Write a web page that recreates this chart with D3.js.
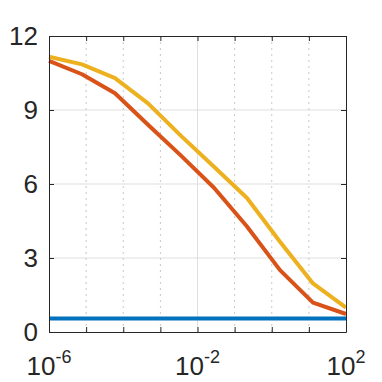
<!DOCTYPE html>
<html>
<head>
<meta charset="utf-8">
<script src="https://cdn.jsdelivr.net/npm/d3@7"></script>
<style>
  body { margin: 0; background: #fff; }
  text { font-family: "Liberation Sans", Arial, sans-serif; fill: #262626; }
</style>
</head>
<body>
<svg width="382" height="382"></svg>
<script>
// Data (x = logspace(-6, 2, 10))
const xExponents = [-6, -5.111, -4.222, -3.333, -2.444, -1.556, -0.667, 0.222, 1.111, 2];
const seriesBlue = [0.55, 0.55, 0.55, 0.55, 0.55, 0.55, 0.55, 0.55, 0.55, 0.55];
const seriesRed = [10.99, 10.45, 9.68, 8.4, 7.15, 5.85, 4.28, 2.51, 1.19, 0.73];
const seriesYellow = [11.16, 10.85, 10.29, 9.27, 7.95, 6.7, 5.43, 3.66, 1.97, 0.99];
const xMajorTicks = [-6, -2, 2];
const xMinorTicks = [-5, -4, -3, -1, 0, 1];
const yTicks = [0, 3, 6, 9, 12];

const colors = { blue: "#0072BD", red: "#D95319", yellow: "#EDB120" };

const marginLeft = 49, marginTop = 36, width = 297, height = 296;

let svg = d3.select("svg").append("g")
    .attr("transform", `translate(${marginLeft}, ${marginTop})`);

let xscale = d3.scaleLog().domain([1e-6, 1e2]).range([0, width]);
let yscale = d3.scaleLinear().domain([0, 12]).range([height, 0]);

// Grid
svg.append("g").selectAll("line.ygrid")
    .data(yTicks.slice(1, -1))
    .enter().append("line")
    .attr("x1", 0).attr("x2", width)
    .attr("y1", d => yscale(d)).attr("y2", d => yscale(d))
    .attr("stroke", "#dfdfdf").attr("stroke-width", 1);

svg.append("g").selectAll("line.xgrid")
    .data(xMajorTicks.slice(1, -1))
    .enter().append("line")
    .attr("x1", d => xscale(Math.pow(10, d))).attr("x2", d => xscale(Math.pow(10, d)))
    .attr("y1", 0).attr("y2", height)
    .attr("stroke", "#dfdfdf").attr("stroke-width", 1);

svg.append("g").selectAll("line.xminor")
    .data(xMinorTicks)
    .enter().append("line")
    .attr("x1", d => xscale(Math.pow(10, d))).attr("x2", d => xscale(Math.pow(10, d)))
    .attr("y1", 0).attr("y2", height)
    .attr("stroke", "#c8c8c8").attr("stroke-width", 1)
    .attr("stroke-dasharray", "2,4");

// Lines
let line = d3.line()
    .x((d, i) => xscale(Math.pow(10, xExponents[i])))
    .y(d => yscale(d));

[[seriesBlue, colors.blue], [seriesRed, colors.red], [seriesYellow, colors.yellow]].forEach(([s, c]) => {
    svg.append("path")
        .datum(s)
        .attr("d", line)
        .attr("fill", "none")
        .attr("stroke", c)
        .attr("stroke-width", 4)
        .attr("stroke-linejoin", "round");
});

// Axes (ticks inside)
const allXTicks = xMajorTicks.concat(xMinorTicks).map(e => Math.pow(10, e));
let xaxisB = d3.axisBottom(xscale).tickValues(allXTicks).tickSizeInner(-5).tickSizeOuter(0).tickFormat("");
let xaxisT = d3.axisTop(xscale).tickValues(allXTicks).tickSizeInner(-5).tickSizeOuter(0).tickFormat("");
let yaxisL = d3.axisLeft(yscale).tickValues(yTicks).tickSizeInner(-5).tickSizeOuter(0).tickFormat("");
let yaxisR = d3.axisRight(yscale).tickValues(yTicks).tickSizeInner(-5).tickSizeOuter(0).tickFormat("");

[[xaxisB, `translate(0, ${height})`], [xaxisT, "translate(0, 0)"],
 [yaxisL, "translate(0, 0)"], [yaxisR, `translate(${width}, 0)`]].forEach(([ax, tr]) => {
    let g = svg.append("g").attr("transform", tr).call(ax);
    g.selectAll("path, line").attr("stroke", "#262626").attr("stroke-width", 1);
});

// Tick labels
svg.append("g").selectAll("text.ylab")
    .data(yTicks)
    .enter().append("text")
    .attr("x", -11)
    .attr("y", d => yscale(d))
    .attr("dy", "0.35em")
    .attr("text-anchor", "end")
    .attr("font-size", 26)
    .text(d => d);

let xl = svg.append("g").selectAll("text.xlab")
    .data(xMajorTicks)
    .enter().append("text")
    .attr("x", d => xscale(Math.pow(10, d)))
    .attr("y", height + 43)
    .attr("text-anchor", "middle")
    .attr("font-size", 26);
xl.append("tspan").text("10");
xl.append("tspan").attr("font-size", 18).attr("dy", -12).text(d => d < 0 ? "-" + Math.abs(d) : d);
</script>
</body>
</html>
